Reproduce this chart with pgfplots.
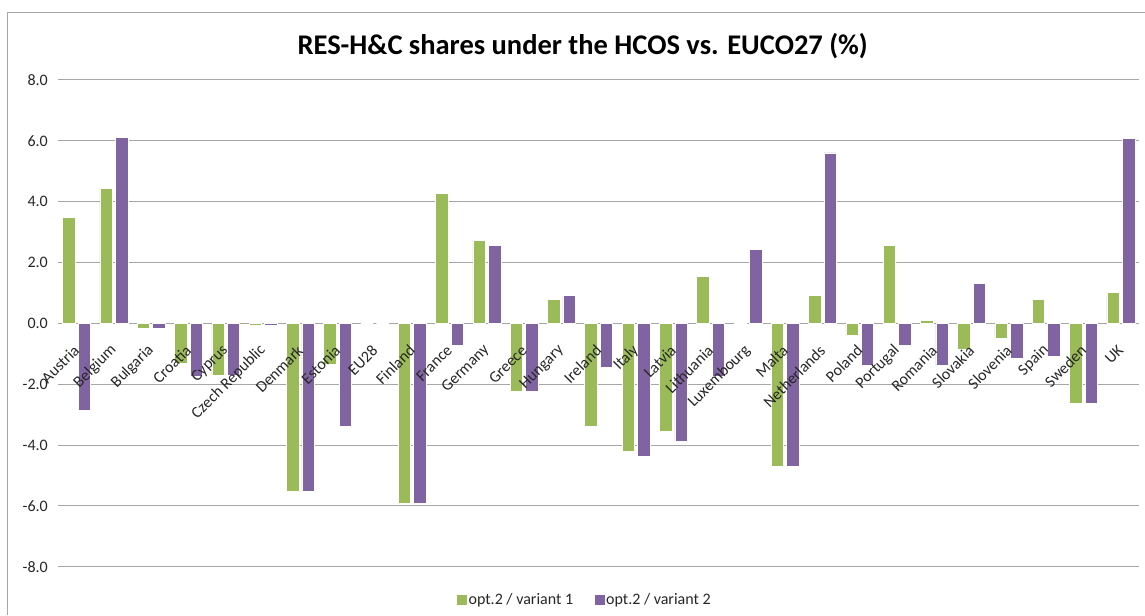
\documentclass[border=0pt]{standalone}
\usepackage{pgfplots}
\pgfplotsset{compat=1.18}
\usepackage{fontspec}
\setmainfont{Carlito}

\definecolor{resgreen}{HTML}{9BBB59}
\definecolor{respurple}{HTML}{8064A2}
\definecolor{gridgray}{HTML}{A6A6A6}
\definecolor{txt}{HTML}{262626}

% RES-H&C share differences, HCOS vs. EUCO27 (%)
\pgfplotstableread{
idx v1 v2
0 3.48 -2.85
1 4.44 6.12
2 -0.16 -0.16
3 -1.30 -1.73
4 -1.70 -1.70
5 -0.06 -0.07
6 -5.53 -5.53
7 -1.36 -3.37
8 0 0
9 -5.93 -5.93
10 4.26 -0.73
11 2.72 2.57
12 -2.24 -2.24
13 0.78 0.91
14 -3.37 -1.44
15 -4.21 -4.37
16 -3.55 -3.87
17 1.55 -1.73
18 0.03 2.43
19 -4.70 -4.70
20 0.91 5.60
21 -0.40 -1.39
22 2.55 -0.73
23 0.10 -1.39
24 -0.84 1.31
25 -0.48 -1.16
26 0.78 -1.09
27 -2.64 -2.64
28 1.02 6.07
}\restable

\begin{document}
\begin{tikzpicture}
  \path (0,0) rectangle (1145bp,615bp);
  \draw[gridgray, line width=1bp] (8bp,0bp) -- (8bp,602bp) -- (1145bp,602bp);
  \node[font=\fontsize{28.5bp}{32bp}\selectfont\bfseries, text=black] at (583bp,569bp)
    {RES-H\&C shares under the HCOS vs. EUCO27 (\%)};
  \begin{axis}[
    set layers=standard,
    at={(58bp,48bp)}, anchor=south west,
    scale only axis, width=1082bp, height=487bp,
    ybar=3bp, bar width=12.5bp,
    xmin=-0.5, xmax=28.5, ymin=-8, ymax=8,
    ytick={-8,-6,...,8},
    xtick=data,
    xticklabels={Austria,Belgium,Bulgaria,Croatia,Cyprus,Czech Republic,Denmark,Estonia,EU28,Finland,France,Germany,Greece,Hungary,Ireland,Italy,Latvia,Lithuania,Luxembourg,Malta,Netherlands,Poland,Portugal,Romania,Slovakia,Slovenia,Spain,Sweden,UK},
    axis line style={draw=none},
    major tick length=0pt,
    ymajorgrids, grid style={gridgray, line width=1bp},
    yticklabel style={font=\fontsize{16bp}{19bp}\selectfont, text=txt, anchor=east, xshift=-10bp, inner sep=0pt},
    xticklabel style={/pgfplots/on layer=axis foreground,
      font=\fontsize{16bp}{19bp}\selectfont, text=txt, inner sep=0pt, xshift=0bp, yshift=219bp, rotate=45, anchor=east},
    /pgf/number format/assume math mode=true,
    yticklabel={\pgfmathprintnumber[fixed, fixed zerofill, precision=1]{\tick}},
    legend columns=2,
    legend style={at={(0.487,-0.068)}, anchor=center, draw=none, fill=none,
      font=\fontsize{16bp}{19bp}\selectfont, text=txt,
      /tikz/every even column/.append style={column sep=20bp},
      nodes={inner sep=1.5bp}},
    legend image code/.code={\fill[#1, draw=none] (0bp,-5bp) rectangle (10bp,5bp);},
  ]
    \addplot[fill=resgreen, draw=white, line width=0.6bp] table[x=idx, y=v1] {\restable};
    \addplot[fill=respurple, draw=white, line width=0.6bp] table[x=idx, y=v2] {\restable};
    \legend{opt.2 / variant 1, opt.2 / variant 2}
  \end{axis}
\end{tikzpicture}
\end{document}
